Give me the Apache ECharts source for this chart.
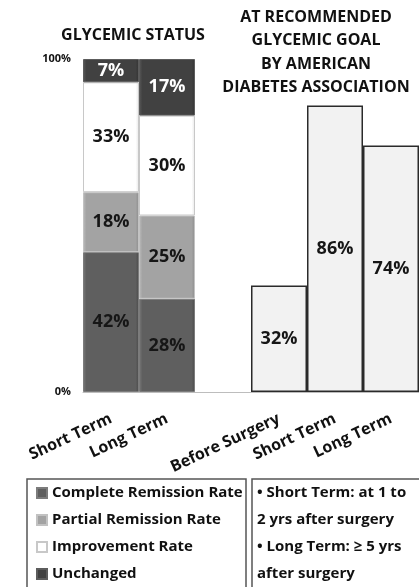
<!DOCTYPE html>
<html>
<head>
<meta charset="utf-8">
<script src="https://cdn.jsdelivr.net/npm/echarts@6/dist/echarts.min.js"></script>
<style>
  html, body { margin: 0; padding: 0; background: #fff; }
  #chart { width: 419px; height: 587px; }
</style>
</head>
<body>
<div id="chart"></div>
<script>
// Glycemic status groups (stacked, percent of patients)
const statusTerms = ['Short Term', 'Long Term'];
const completeRemission = [42, 28];
const partialRemission = [18, 25];
const improvement = [33, 30];
const unchanged = [7, 17];

// Patients at the ADA recommended glycemic goal
const goalGroups = ['Before Surgery', 'Short Term', 'Long Term'];
const adaGoal = [32, 86, 74];

const yTicks = [0, 100];

const seriesNames = ['Complete Remission Rate', 'Partial Remission Rate', 'Improvement Rate', 'Unchanged'];
const noteLines = ['\u2022 Short Term: at 1 to', '2 yrs after surgery', '\u2022 Long Term: \u2265 5 yrs', 'after surgery'];

const FONT = '"Open Sans", Lato, sans-serif';

// one spacer category separates the two panels
const categories = statusTerms.concat([''], goalGroups);
const pad = (vals, before, after) =>
  Array(before).fill('-').concat(vals, Array(after).fill('-'));
const leftPad = (vals) => pad(vals, 0, 1 + goalGroups.length);
const rightPad = (vals) => pad(vals, statusTerms.length + 1, 0);

function bevel(base, light, dark) {
  return {
    type: 'linear', x: 0, y: 0, x2: 1, y2: 0,
    colorStops: [
      { offset: 0, color: light },
      { offset: 0.06, color: base },
      { offset: 0.94, color: base },
      { offset: 1, color: dark }
    ]
  };
}

const stackStyles = [
  { color: bevel('#5f5f5f', '#7a7a7a', '#4a4a4a'), border: '#7c7c7c', text: '#161616' },
  { color: bevel('#a3a3a3', '#bdbdbd', '#8c8c8c'), border: '#c2c2c2', text: '#161616' },
  { color: bevel('#ffffff', '#ffffff', '#e6e6e6'), border: '#c8c8c8', text: '#161616' },
  { color: bevel('#414141', '#5a5a5a', '#333333'), border: '#5c5c5c', text: '#ffffff' }
];
const stackData = [completeRemission, partialRemission, improvement, unchanged];

const series = stackData.map((vals, i) => ({
  name: seriesNames[i],
  type: 'bar',
  stack: 'status',
  barWidth: '100%',
  data: leftPad(vals),
  itemStyle: { color: stackStyles[i].color, borderColor: stackStyles[i].border, borderWidth: 1 },
  label: {
    show: true, position: 'inside',
    formatter: '{c}%',
    color: stackStyles[i].text,
    fontFamily: FONT, fontWeight: 'bold', fontSize: 18
  },
  emphasis: { disabled: true }
}));

series.push({
  name: 'At ADA Goal',
  type: 'bar',
  barWidth: '100%',
  barGap: '-100%',
  data: rightPad(adaGoal),
  itemStyle: { color: '#f2f2f2', borderColor: '#2a2a2a', borderWidth: 1.5 },
  label: {
    show: true, position: 'inside',
    formatter: '{c}%',
    color: '#161616',
    fontFamily: FONT, fontWeight: 'bold', fontSize: 18
  },
  emphasis: { disabled: true }
});

const chart = echarts.init(document.getElementById('chart'), null, { renderer: 'canvas' });

const titleFont = 'bold 16px ' + FONT;
const rightTitle = ['AT RECOMMENDED', 'GLYCEMIC GOAL', 'BY AMERICAN', 'DIABETES ASSOCIATION'];

const graphics = [
  { type: 'text', x: 133, y: 35, style: { text: 'GLYCEMIC STATUS', font: titleFont, fill: '#111', align: 'center', verticalAlign: 'middle' } }
];
rightTitle.forEach((t, i) => {
  graphics.push({ type: 'text', x: 316, y: 17 + i * 23.5, style: { text: t, font: titleFont, fill: '#111', align: 'center', verticalAlign: 'middle' } });
});
// legend frames
graphics.push({ type: 'rect', shape: { x: 27, y: 479, width: 219, height: 112 }, style: { fill: 'none', stroke: '#555', lineWidth: 1.5 }, z: -1 });
graphics.push({ type: 'rect', shape: { x: 252, y: 479, width: 170, height: 112 }, style: { fill: 'none', stroke: '#555', lineWidth: 1.5 }, z: -1 });
noteLines.forEach((t, i) => {
  graphics.push({ type: 'text', x: 257, y: 493 + i * 27, style: { text: t, font: 'bold 15px ' + FONT, fill: '#111', align: 'left', verticalAlign: 'middle' } });
});

chart.setOption({
  animation: false,
  backgroundColor: '#fff',
  grid: { left: 83, right: 0, top: 59, bottom: 195, containLabel: false },
  legend: {
    data: seriesNames,
    orient: 'vertical',
    left: 36, top: 484,
    padding: 0,
    icon: 'rect',
    itemWidth: 10, itemHeight: 10,
    itemGap: 9,
    selectedMode: false,
    textStyle: { fontFamily: FONT, fontWeight: 'bold', fontSize: 15, color: '#111', lineHeight: 18 }
  },
  xAxis: {
    type: 'category',
    data: categories,
    axisTick: { show: false },
    axisLine: { lineStyle: { color: '#bdbdbd', width: 1 } },
    axisLabel: {
      interval: 0, rotate: 25, margin: 26,
      fontFamily: FONT, fontWeight: 'bold', fontSize: 16, color: '#111'
    }
  },
  yAxis: {
    type: 'value',
    min: yTicks[0], max: yTicks[yTicks.length - 1], interval: 100,
    axisLine: { show: false },
    axisTick: { show: false },
    splitLine: { show: false },
    axisLabel: {
      formatter: '{value}%', margin: 12,
      fontFamily: FONT, fontWeight: 'bold', fontSize: 11, color: '#111'
    }
  },
  series: series,
  graphic: graphics
});
</script>
</body>
</html>
